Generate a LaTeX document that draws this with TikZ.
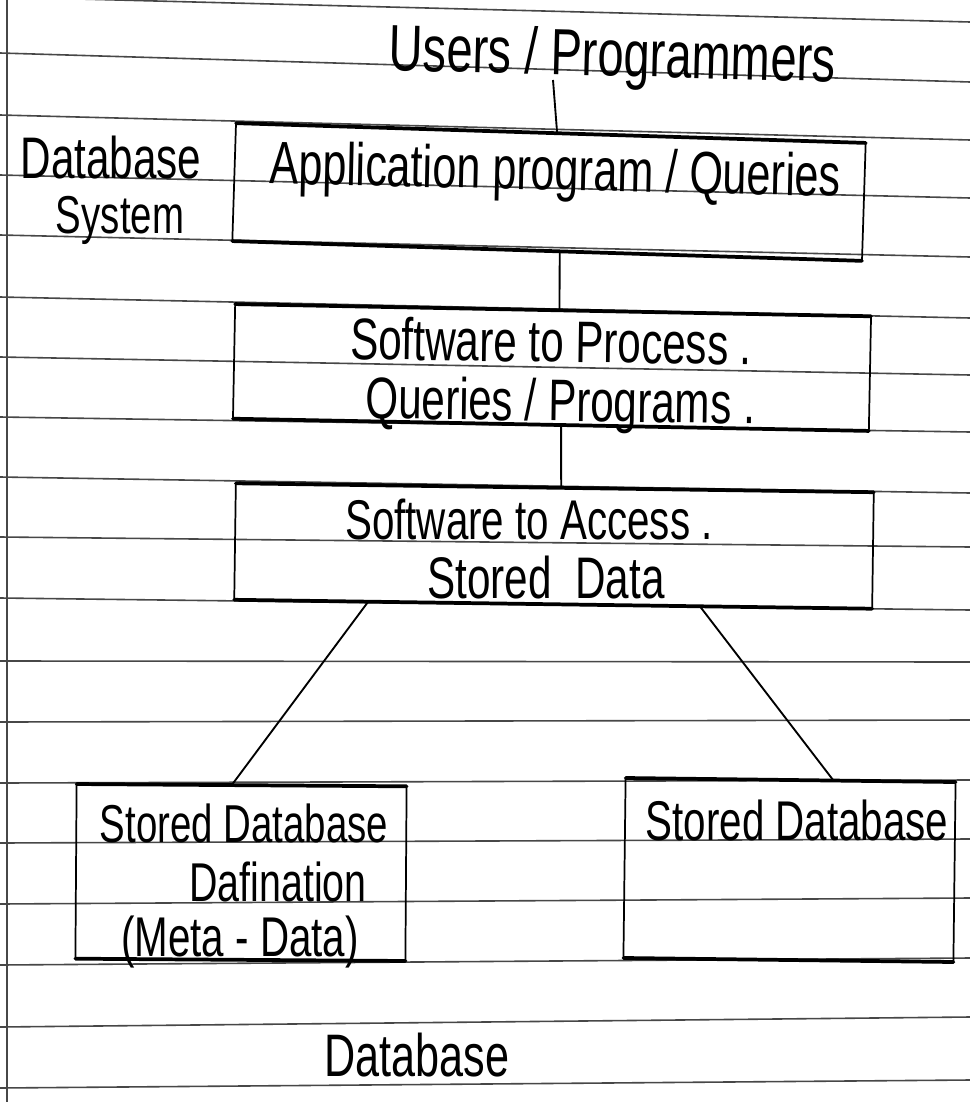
\documentclass[tikz,border=0pt]{standalone}
\usepackage{fontspec}
\newfontfamily\hand[FakeStretch=0.72]{Liberation Sans}
\newcommand\handsz[1]{\fontsize{#1}{#1}\selectfont}
\usetikzlibrary{calc}
\begin{document}
\begin{tikzpicture}[x=0.75pt,y=-0.75pt,
  rule/.style={line width=1.2pt, draw=black!72},
  boxnode/.style={draw=none, inner sep=0pt, outer sep=0pt, rectangle},
  thickedge/.style={line width=2.8pt, draw=black, line cap=round},
  thinedge/.style={line width=1.3pt, draw=black},
  conn/.style={line width=1.4pt, draw=black},
  txt/.style={inner sep=0pt, outer sep=0pt, anchor=base, text=black}]
\useasboundingbox (0,0) rectangle (970,1102);
\fill[white] (0,0) rectangle (970,1102);
% ruled paper
\foreach \yl/\yr in {-3/22,53/82,115/140,175/198,235/257,297/318,357/375,417/432,477/493,537/547,598/610,661/662,722/720,783/780,843/839,904/898,965/958,1027/1017,1088/1080}
  \draw[rule] (0,\yl) -- (970,\yr);
\draw[rule, line width=1pt] (7,0) -- (7,1102);

% boxes
\node[boxnode, rotate=-1.8, minimum width=472.5pt, minimum height=88.5pt] (b1) at (549,192) {};
\node[boxnode, rotate=-1.1, minimum width=477pt, minimum height=86pt] (b2) at (552,367.5) {};
\node[boxnode, rotate=-0.8, minimum width=478.5pt, minimum height=87.4pt] (b3) at (554,546) {};
\node[boxnode, rotate=-0.4, minimum width=247.5pt, minimum height=131pt] (b4) at (241,872.5) {};
\node[boxnode, rotate=-0.7, minimum width=247.5pt, minimum height=135pt] (b5) at (789.5,870) {};
\foreach \b in {b1,b2,b3,b4,b5}{
  \draw[thickedge] (\b.north west) -- (\b.north east);
  \draw[thickedge] (\b.south west) -- (\b.south east);
  \draw[thinedge] (\b.north west) -- (\b.south west);
  \draw[thinedge] (\b.north east) -- (\b.south east);
}

% texts
\node[txt, font=\hand\handsz{49}, rotate=-1.5] (t0) at (612,76) {Users / Programmers};
\node[txt, font=\hand\handsz{44}] (ds1) at (111,178) {Database};
\node[txt, font=\hand\handsz{40}] (ds2) at (120,233) {System};
\node[txt, font=\hand\handsz{45}, rotate=-1.3] (t1) at (555,190) {Application program / Queries};
\node[txt, font=\hand\handsz{44}, rotate=-0.8] (t2a) at (551,362) {Software to Process .};
\node[txt, font=\hand\handsz{44}, rotate=-0.8] (t2b) at (560,421) {Queries / Programs .};
\node[txt, font=\hand\handsz{42}] (t3a) at (529,539) {Software to Access .};
\node[txt, font=\hand\handsz{44}] (t3b) at (546,598) {Stored\ \ Data};
\node[txt, font=\hand\handsz{40}] (t4a) at (244,842) {Stored Database};
\node[txt, font=\hand\handsz{41}] (t4b) at (278,901) {Dafination};
\node[txt, font=\hand\handsz{42}] (t4c) at (240,956) {(Meta - Data)};
\node[txt, font=\hand\handsz{42}] (t5) at (797,840) {Stored Database};
\node[txt, font=\hand\handsz{45}] (t6) at (417,1076) {Database};

% connectors
\coordinate (pstem) at (553,80);
\draw[conn] (pstem) -- ($(b1.north west)!0.51!(b1.north east)$);
\draw[conn] ($(b1.south west)!0.52!(b1.south east)$) -- ($(b2.north west)!0.51!(b2.north east)$);
\draw[conn] ($(b2.south west)!0.516!(b2.south east)$) -- ($(b3.north west)!0.51!(b3.north east)$);
\draw[conn] ($(b3.south west)!0.21!(b3.south east)$) -- ($(b4.north west)!0.47!(b4.north east)$);
\draw[conn] ($(b3.south west)!0.73!(b3.south east)$) -- ($(b5.north west)!0.63!(b5.north east)$);
\end{tikzpicture}
\end{document}
